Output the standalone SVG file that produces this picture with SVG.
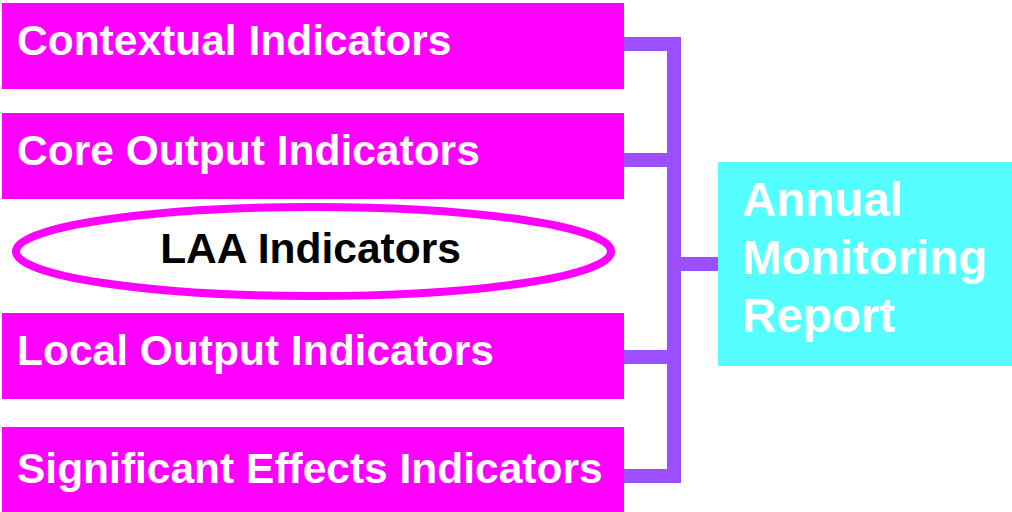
<svg xmlns="http://www.w3.org/2000/svg" width="1012" height="512" viewBox="0 0 1012 512">
<style>
.box{fill:#FF00FF}
.lbl{font-family:"Liberation Sans",Arial,sans-serif;font-weight:bold;font-size:42.5px;fill:#FFFFFF}
.con{stroke:#9B4FFF;stroke-width:14;fill:none;stroke-linejoin:miter;stroke-linecap:butt}
</style>
<rect width="1012" height="512" fill="#FFFFFF"/>
<g id="connectors">
<polyline class="con" points="624,44 674,44 674,476 624,476"/>
<line class="con" x1="624" y1="160" x2="674" y2="160"/>
<line class="con" x1="624" y1="357" x2="674" y2="357"/>
<line class="con" x1="674" y1="264" x2="720" y2="264"/>
</g>
<g id="contextual">
<rect class="box" x="2" y="3" width="622" height="86"/>
<text class="lbl" x="17" y="55">Contextual Indicators</text>
</g>
<g id="core">
<rect class="box" x="2" y="113" width="622" height="86"/>
<text class="lbl" x="17" y="165">Core Output Indicators</text>
</g>
<g id="laa">
<ellipse cx="313.5" cy="251.5" rx="297.5" ry="44.5" fill="#FFFFFF" stroke="#FF00FF" stroke-width="8"/>
<text x="310.5" y="263" text-anchor="middle" style="font-family:'Liberation Sans',Arial,sans-serif;font-weight:bold;font-size:42.5px;fill:#000000">LAA Indicators</text>
</g>
<g id="local">
<rect class="box" x="2" y="313" width="622" height="86"/>
<text class="lbl" x="17" y="365">Local Output Indicators</text>
</g>
<g id="significant">
<rect class="box" x="2" y="427" width="622" height="85"/>
<text class="lbl" x="17" y="483">Significant Effects Indicators</text>
</g>
<g id="amr">
<rect x="718" y="162" width="294" height="204" fill="#55FFFF"/>
<text style="font-family:'Liberation Sans',Arial,sans-serif;font-weight:bold;font-size:47.5px;fill:#FFFFFF">
<tspan x="742" y="216">Annual</tspan>
<tspan x="742" y="274">Monitoring</tspan>
<tspan x="742" y="332">Report</tspan>
</text>
</g>
</svg>
